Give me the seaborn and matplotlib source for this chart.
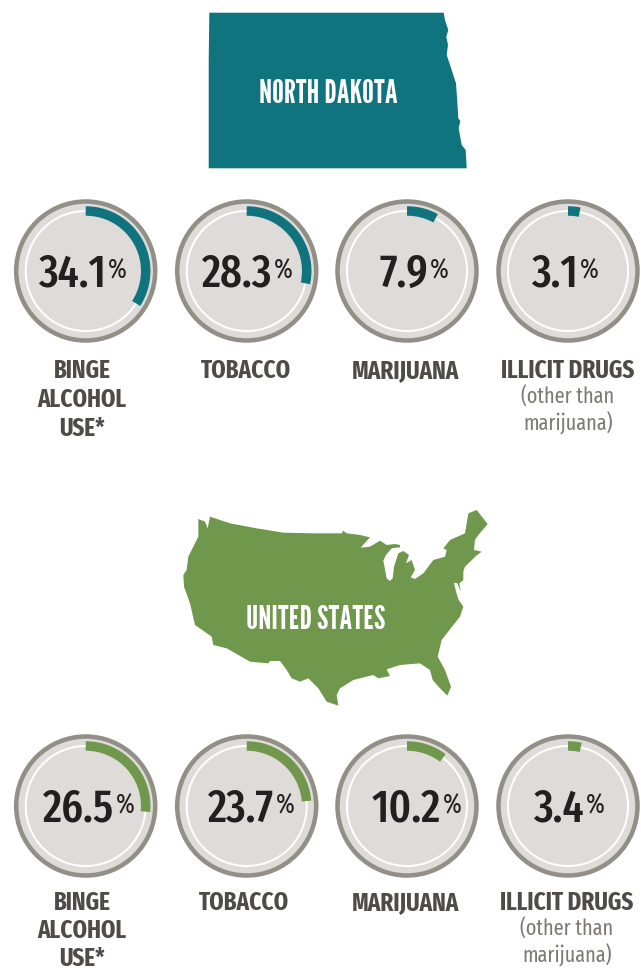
import numpy as np
import pandas as pd
import seaborn as sns
import matplotlib.pyplot as plt
from matplotlib.patches import Circle

# Values from the picture
nd_values = [34.1, 28.3, 7.9, 3.1]
us_values = [26.5, 23.7, 10.2, 3.4]
labels = ["BINGE\nALCOHOL\nUSE*", "TOBACCO", "MARIJUANA", "ILLICIT DRUGS"]
sublabel = "(other than\nmarijuana)"

# Outlines, in pixels
nd_x = [209.3, 443.7, 445, 448.3, 446.3, 448, 446.7, 451.7, 456, 457.3, 458.3, 460.3, 458.7, 461.7, 465.7, 466.7, 208.7, 208.7]
nd_y = [12.7, 12.7, 20, 30, 36.7, 45, 55, 70, 83.3, 101.7, 118.3, 121, 128.3, 145, 150, 168.3, 168.3, 61.7]

us_zoom = [(85, 57), (105, 65), (113, 85), (120, 50), (180, 70), (260, 85), (340, 98), (430, 100), (515, 100), (520, 92),
           (530, 100), (570, 105), (600, 112), (572, 143), (600, 140), (630, 122), (650, 135), (675, 132), (690, 135),
           (690, 142), (665, 145), (648, 165), (640, 182), (650, 235), (660, 243), (668, 235), (672, 200), (685, 160),
           (700, 153), (717, 165), (708, 190), (725, 180), (735, 210), (722, 232), (735, 237), (760, 220), (790, 180),
           (825, 170), (830, 150), (820, 145), (840, 120), (885, 100), (895, 40), (920, 30), (953, 72), (925, 105),
           (915, 120), (912, 150), (935, 155), (918, 168), (885, 200), (880, 215), (880, 240), (868, 250), (872, 275),
           (862, 250), (852, 248), (858, 275), (866, 300), (880, 320), (870, 350), (850, 375), (815, 420), (803, 470),
           (825, 510), (843, 560), (832, 587), (810, 565), (788, 540), (780, 510), (750, 490), (690, 495), (650, 508),
           (660, 528), (625, 535), (610, 525), (550, 540), (510, 565), (500, 585), (505, 617), (470, 605), (445, 565),
           (415, 535), (390, 545), (365, 535), (350, 510), (330, 483), (300, 483), (295, 490), (240, 485), (170, 445),
           (130, 435), (125, 410), (75, 375), (60, 310), (42, 260), (40, 225), (50, 210), (55, 170), (85, 110)]
us_x = [170 + p[0] / 3 for p in us_zoom]
us_y = [500 + p[1] / 3 for p in us_zoom]

TEAL = "#10747f"
GREEN = "#6f984c"
RING = "#928f87"
DISC = "#dedbd8"
DARK = "#231f20"
LABEL = "#4f4b47"
NARROW = ["Fira Sans Extra Condensed", "Barlow Condensed", "Saira ExtraCondensed", "Sofia Sans Extra Condensed", "DejaVu Sans"]
TALL = ["League Gothic", "Antonio", "Bebas Neue", "Fira Sans Extra Condensed", "DejaVu Sans"]

sns.set_theme(style="white")
plt.rcParams["font.family"] = NARROW

fig = plt.figure(figsize=(6.41, 9.68), dpi=100)
ax = fig.add_axes([0, 0, 1, 1])
ax.set_xlim(0, 641)
ax.set_ylim(968, 0)
ax.axis("off")


def px(n):
    # font size / line width in pt for a size in pixels
    return n * 72 / 100


def gauge(cx, cy, value, color):
    ax.add_patch(Circle((cx, cy), 69.5, fc=DISC, ec=RING, lw=px(4.5), zorder=1))
    ax.add_patch(Circle((cx, cy), 60, fc="none", ec="white", lw=px(2), zorder=2))
    theta = np.radians(np.linspace(0, value * 3.6, 80))
    arc = pd.DataFrame({"x": cx + 60 * np.sin(theta), "y": cy - 60 * np.cos(theta)})
    sns.lineplot(data=arc, x="x", y="y", sort=False, estimator=None, color=color,
                 lw=px(9.5), solid_capstyle="butt", ax=ax, zorder=3)


def panel(values, color, cy, split_x, label_x, label_y, spacing):
    centers = [85.7, 246.7, 407, 568]
    for i, value in enumerate(values):
        gauge(centers[i], cy, value, color)
        ax.text(split_x[i], cy + 3, f"{value}", ha="right", va="center", color=DARK,
                fontsize=px(46), fontweight="medium")
        ax.text(split_x[i] + 2, cy, "%", ha="left", va="center", color=DARK,
                fontsize=px(27))
        for j, line in enumerate(labels[i].split("\n")):
            ax.text(label_x[i], label_y + j * spacing, line, ha="center", va="center",
                    color=LABEL, fontsize=px(25), fontweight="bold")
    for j, line in enumerate(sublabel.split("\n")):
        ax.text(label_x[3], label_y + 26.5 + j * 26, line, ha="center", va="center",
                color="#7d7a76", fontsize=px(22))


ax.fill(nd_x, nd_y, color=TEAL, lw=0)
ax.fill(us_x, us_y, color=GREEN, lw=0)
ax.text(328, 94, "NORTH DAKOTA", ha="center", va="center", color="white",
        fontsize=px(33), family=TALL)
ax.text(316, 620, "UNITED STATES", ha="center", va="center", color="white",
        fontsize=px(33), family=TALL)

panel(nd_values, TEAL, 271, [106, 272, 428, 578], [82, 246, 405, 568], 371, 28.7)
panel(us_values, GREEN, 806, [114, 274, 441, 584], [82, 244, 405, 567], 903, 28)

fig.savefig("out.png", dpi=100)
